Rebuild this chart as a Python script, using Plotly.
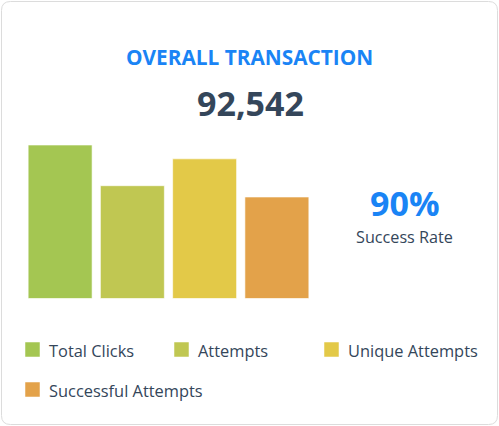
import plotly.graph_objects as go

W, H = 499, 426

categories = ["Total Clicks", "Attempts", "Unique Attempts", "Successful Attempts"]
values = [92542, 68000, 84200, 61200]
colors = ["#a4c652", "#c0c752", "#e3c948", "#e3a24a"]
title_text = "OVERALL TRANSACTION"
total_text = "92,542"
rate_text = "90%"
rate_label = "Success Rate"

def px(x):
    return x / W

def py(y):
    return 1 - y / H

fig = go.Figure()
fig.add_trace(go.Bar(
    x=categories, y=values,
    marker=dict(color=colors, line=dict(color="rgba(255,255,255,0.6)", width=1)),
    width=0.885, showlegend=False, hoverinfo="x+y",
))

shapes = []
# card border (rounded rect)
x0, y0, x1, y1, r = 1.5, 1.5, 497.5, 424.5, 9
path = (f"M {px(x0+r)},{py(y0)} L {px(x1-r)},{py(y0)} "
        f"Q {px(x1)},{py(y0)} {px(x1)},{py(y0+r)} L {px(x1)},{py(y1-r)} "
        f"Q {px(x1)},{py(y1)} {px(x1-r)},{py(y1)} L {px(x0+r)},{py(y1)} "
        f"Q {px(x0)},{py(y1)} {px(x0)},{py(y1-r)} L {px(x0)},{py(y0+r)} "
        f"Q {px(x0)},{py(y0)} {px(x0+r)},{py(y0)} Z")
shapes.append(dict(type="path", xref="paper", yref="paper", path=path,
                   line=dict(color="#dcdcdc", width=1), fillcolor="rgba(0,0,0,0)", layer="below"))

annotations = [
    dict(text=f"<b>{title_text}</b>", x=px(250), y=py(57), xref="paper", yref="paper",
         showarrow=False, font=dict(family="Open Sans", size=20.8, color="#1a84f5"),
         xanchor="center", yanchor="middle"),
    dict(text=f"<b>{total_text}</b>", x=px(250.5), y=py(103), xref="paper", yref="paper",
         showarrow=False, font=dict(family="Open Sans", size=34, color="#34465a"),
         xanchor="center", yanchor="middle"),
    dict(text=f"<b>{rate_text}</b>", x=px(405), y=py(203), xref="paper", yref="paper",
         showarrow=False, font=dict(family="Open Sans", size=34, color="#1a84f5"),
         xanchor="center", yanchor="middle"),
    dict(text=rate_label, x=px(404.5), y=py(237), xref="paper", yref="paper",
         showarrow=False, font=dict(family="Open Sans", size=16.2, color="#34465a"),
         xanchor="center", yanchor="middle"),
]

# custom legend
legend_pos = [(25, 342), (174, 342), (324, 342), (25, 382)]
for (lx, ly), name, col in zip(legend_pos, categories, colors):
    shapes.append(dict(type="rect", xref="paper", yref="paper",
                       x0=px(lx), x1=px(lx + 15), y0=py(ly), y1=py(ly + 15),
                       fillcolor=col, line=dict(color="rgba(255,255,255,0.5)", width=1)))
    annotations.append(dict(text=name, x=px(lx + 22), y=py(ly + 8.5), xref="paper", yref="paper",
                            showarrow=False, font=dict(family="Open Sans", size=16.4, color="#34465a"),
                            xanchor="left", yanchor="middle"))

fig.update_layout(
    width=W, height=H, margin=dict(l=0, r=0, t=0, b=0),
    paper_bgcolor="white", plot_bgcolor="white",
    xaxis=dict(domain=[px(24), px(313)], range=[-0.5, 3.5], visible=False, fixedrange=True),
    yaxis=dict(domain=[py(298.5), py(145)], range=[0, max(values)], visible=False, fixedrange=True),
    shapes=shapes, annotations=annotations, showlegend=False,
)

fig.write_html("out.html", config={"displayModeBar": False})
